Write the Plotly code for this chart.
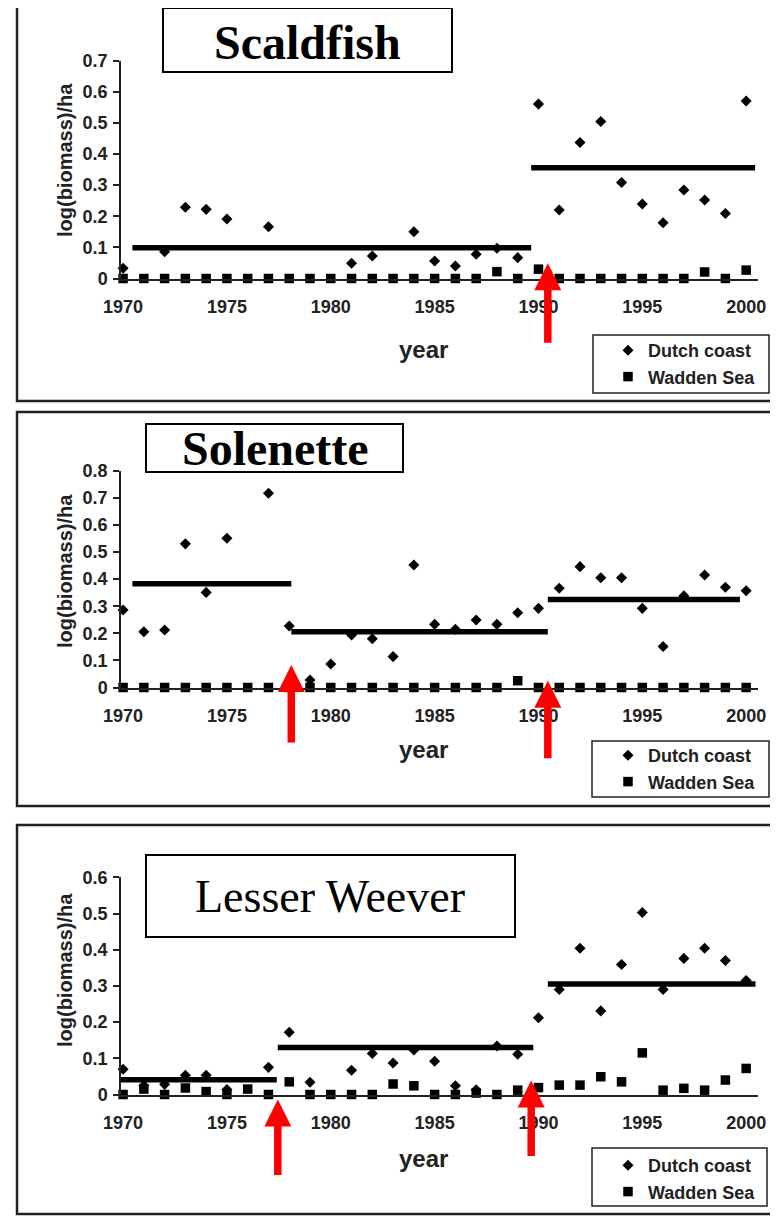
import plotly.graph_objects as go

# The page body adds an 8 px margin, so the figure is drawn 8 px smaller and
# every reference pixel position is shifted by that offset.
VIEW_W, VIEW_H = 778, 1217
OFF = 8
W, H = VIEW_W - OFF, VIEW_H - OFF

# ---------------- data ----------------
years = list(range(1970, 2001))
x_ticks = [1970, 1975, 1980, 1985, 1990, 1995, 2000]
series_names = ["Dutch coast", "Wadden Sea"]
titles = ["Scaldfish", "Solenette", "Lesser Weever"]

scaldfish_dutch = [0.033, None, 0.086, 0.229, 0.222, 0.191, None, 0.166, None, None,
                   None, 0.049, 0.072, None, 0.150, 0.056, 0.040, 0.078, 0.097, 0.067,
                   0.560, 0.220, 0.437, 0.504, 0.308, 0.239, 0.179, 0.284, 0.252, 0.209,
                   0.570]
scaldfish_wadden = [0, 0, 0, 0, 0, 0, 0, 0, 0, 0,
                    0, 0, 0, 0, 0, 0, 0, 0, 0.022, 0,
                    0.030, 0, 0, 0, 0, 0, 0, 0, 0.021, 0,
                    0.027]
scaldfish_seg_start = [1970.45, 1989.65]
scaldfish_seg_end = [1989.65, 2000.43]
scaldfish_seg_mean = [0.099, 0.356]
scaldfish_shift_years = [1990.45]

solenette_dutch = [0.286, 0.206, 0.212, 0.530, 0.351, 0.551, None, 0.717, 0.227, 0.028,
                   0.087, 0.194, 0.180, 0.114, 0.452, 0.233, 0.215, 0.249, 0.233, 0.276,
                   0.292, 0.366, 0.446, 0.405, 0.405, 0.292, 0.151, 0.338, 0.415, 0.370,
                   0.357]
solenette_wadden = [0, 0, 0, 0, 0, 0, 0, 0, 0, 0,
                    0, 0, 0, 0, 0, 0, 0, 0, 0, 0.025,
                    0, 0, 0, 0, 0, 0, 0, 0, 0, 0,
                    0]
solenette_seg_start = [1970.45, 1978.1, 1990.45]
solenette_seg_end = [1978.1, 1990.45, 1999.7]
solenette_seg_mean = [0.383, 0.206, 0.325]
solenette_shift_years = [1978.1, 1990.45]

weever_dutch = [0.070, 0.025, 0.028, 0.053, 0.053, 0.014, None, 0.075, 0.172, 0.034,
                None, 0.067, 0.113, 0.087, 0.123, 0.092, 0.024, 0.013, 0.134, 0.111,
                0.212, 0.290, 0.404, 0.231, 0.359, 0.503, 0.290, 0.376, 0.404, 0.370,
                0.315]
weever_wadden = [0, 0.015, 0, 0.018, 0.008, 0, 0.015, 0, 0.035, 0,
                 0, 0, 0, 0.029, 0.024, 0, 0, 0.004, 0, 0.012,
                 0.019, 0.026, 0.026, 0.049, 0.035, 0.115, 0.012, 0.017, 0.012, 0.040,
                 0.072]
weever_seg_start = [1969.8, 1977.45, 1990.45]
weever_seg_end = [1977.4, 1989.75, 2000.45]
weever_seg_mean = [0.041, 0.130, 0.305]
weever_shift_years = [1977.45, 1989.65]

# ---------------- layout geometry (reference pixels) ----------------
SANS = "Liberation Sans, Arial, sans-serif"
SERIF = "Liberation Serif, Times New Roman, serif"
INK = "#222222"

def px(p):
    return (p - OFF) / W

def py(p):
    return 1 - (p - OFF) / H

panels = [
    dict(dutch=scaldfish_dutch, wadden=scaldfish_wadden,
         seg=(scaldfish_seg_start, scaldfish_seg_end, scaldfish_seg_mean),
         shifts=scaldfish_shift_years, tips=[(0.049, 0)], tail=81,
         ymax=0.7, top=60.5, bottom=278.5,
         frame=(17, 5.5, 776, 401), tbox=(163, 8, 452, 72), tcenter=(307, 42), bold=True, tsize=48,
         lbox=(593, 335, 769, 393), ltop=332, ytitle_c=160, xtitle_c=349),
    dict(dutch=solenette_dutch, wadden=solenette_wadden,
         seg=(solenette_seg_start, solenette_seg_end, solenette_seg_mean),
         shifts=solenette_shift_years, tips=[(0.083, 0), (0.025, 0)], tail=79,
         ymax=0.8, top=470.7, bottom=687.5,
         frame=(17, 412, 776, 806), tbox=(146, 424, 403, 472), tcenter=(275, 448), bold=True, tsize=48,
         lbox=(592, 741, 769, 797), ltop=737, ytitle_c=571, xtitle_c=749),
    dict(dutch=weever_dutch, wadden=weever_wadden,
         seg=(weever_seg_start, weever_seg_end, weever_seg_mean),
         shifts=weever_shift_years, tips=[(0.0, -5), (0.039, 0)], tail=77,
         ymax=0.6, top=877.3, bottom=1094.5,
         frame=(17, 825, 776, 1214), tbox=(146, 855, 515, 937), tcenter=(330, 897), bold=False, tsize=46,
         lbox=(592, 1148, 767, 1206), ltop=1147, ytitle_c=970, xtitle_c=1158),
]

fig = go.Figure()
shapes = []
annotations = []
layout_axes = {}

for i, p in enumerate(panels, start=1):
    sfx = "" if i == 1 else str(i)
    xref, yref = "x" + sfx, "y" + sfx
    leg = "legend" + sfx

    # outer frame
    x0, y0, x1, y1 = p["frame"]
    shapes.append(dict(type="rect", xref="paper", yref="paper",
                       x0=px(x0), x1=px(x1), y0=py(y0), y1=py(y1),
                       line=dict(color=INK, width=2.5), layer="below"))
    # title box
    x0, y0, x1, y1 = p["tbox"]
    shapes.append(dict(type="rect", xref="paper", yref="paper",
                       x0=px(x0), x1=px(x1), y0=py(y0), y1=py(y1),
                       line=dict(color="black", width=2)))
    annotations.append(dict(xref="paper", yref="paper", x=px(p["tcenter"][0]), y=py(p["tcenter"][1]),
                            text=titles[i - 1], showarrow=False, xanchor="center", yanchor="middle",
                            font=dict(family=SERIF, size=p["tsize"], color="black",
                                      weight="bold" if p["bold"] else "normal")))
    # legend box
    x0, y0, x1, y1 = p["lbox"]
    shapes.append(dict(type="rect", xref="paper", yref="paper",
                       x0=px(x0), x1=px(x1), y0=py(y0), y1=py(y1),
                       line=dict(color=INK, width=1.5)))
    # axis titles
    annotations.append(dict(xref="paper", yref="paper", x=px(65), y=py(p["ytitle_c"]),
                            text="log(biomass)/ha", textangle=-90, showarrow=False,
                            xanchor="center", yanchor="middle",
                            font=dict(family=SANS, size=20, color=INK, weight="bold")))
    annotations.append(dict(xref="paper", yref="paper", x=px(424), y=py(p["xtitle_c"]),
                            text="year", showarrow=False, xanchor="center", yanchor="middle",
                            font=dict(family=SANS, size=24, color=INK, weight="bold")))

    # mean lines
    for s, e, m in zip(*p["seg"]):
        fig.add_trace(go.Scatter(x=[s, e], y=[m, m], mode="lines",
                                 line=dict(color="black", width=5.5),
                                 showlegend=False, hoverinfo="skip",
                                 xaxis=xref, yaxis=yref))
    # data points
    fig.add_trace(go.Scatter(x=years, y=p["dutch"], mode="markers", name=series_names[0],
                             marker=dict(symbol="diamond", size=8.5, color="black"),
                             cliponaxis=False, legend=leg, legendgroup="d" + sfx,
                             xaxis=xref, yaxis=yref))
    fig.add_trace(go.Scatter(x=years, y=p["wadden"], mode="markers", name=series_names[1],
                             marker=dict(symbol="square", size=9.5, color="black"),
                             cliponaxis=False, legend=leg, legendgroup="w" + sfx,
                             xaxis=xref, yaxis=yref))
    # red arrows at regime shifts
    for yr, (tip, shift) in zip(p["shifts"], p["tips"]):
        annotations.append(dict(xref=xref, yref=yref, x=yr, y=tip, yshift=shift, text="",
                                showarrow=True, ax=0, ay=p["tail"], axref="pixel", ayref="pixel",
                                arrowhead=2, arrowsize=0.72, arrowwidth=7.5, arrowcolor="#ff0000"))

    layout_axes["xaxis" + sfx] = dict(
        domain=[px(121), px(758)], range=[1969.9, 2000.57], anchor=yref,
        tickvals=x_ticks, showline=True, linecolor=INK, linewidth=2, ticks="",
        ticklabelstandoff=11, showgrid=False, zeroline=False, automargin=False,
        tickfont=dict(family=SANS, size=18, color=INK, weight="bold"))
    layout_axes["yaxis" + sfx] = dict(
        domain=[py(p["bottom"]), py(p["top"])], range=[0, p["ymax"]], anchor=xref,
        dtick=0.1, tick0=0, showline=True, linecolor=INK, linewidth=1.5,
        ticks="outside", ticklen=6, tickwidth=1.5, tickcolor=INK, ticklabelstandoff=2,
        showgrid=False, zeroline=False, automargin=False,
        tickfont=dict(family=SANS, size=18, color=INK, weight="bold"))
    layout_axes[leg] = dict(x=px(608), y=py(p["ltop"]), xanchor="left", yanchor="top",
                            bgcolor="rgba(0,0,0,0)", borderwidth=0, tracegroupgap=0,
                            font=dict(family=SANS, size=18, color=INK, weight="bold"))

fig.update_layout(
    width=W, height=H, margin=dict(l=0, r=0, t=0, b=0, pad=0, autoexpand=False),
    paper_bgcolor="white", plot_bgcolor="white",
    shapes=shapes, annotations=annotations, **layout_axes)

fig.write_html("out.html")
